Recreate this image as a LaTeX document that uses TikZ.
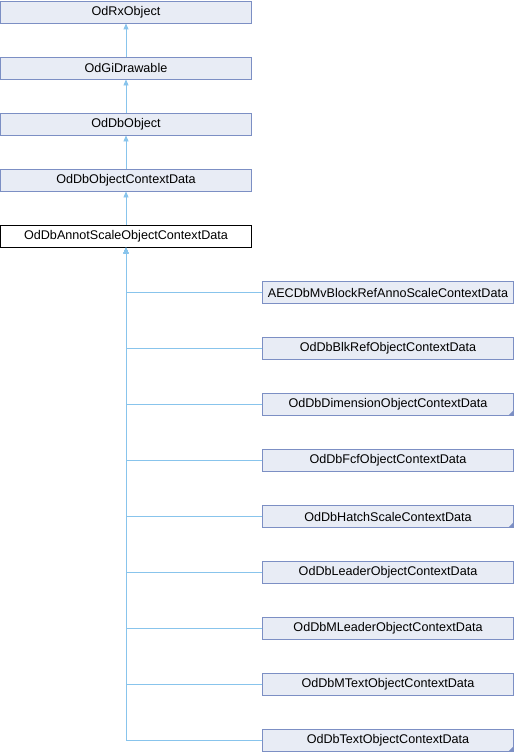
\documentclass[tikz,border=0pt]{standalone}
\usepackage{fontspec}
\setmainfont{Liberation Sans}
\usetikzlibrary{arrows.meta}

\definecolor{clsfill}{RGB}{232,236,245}
\definecolor{clsborder}{RGB}{124,143,196}
\definecolor{inhline}{RGB}{136,196,236}

\tikzset{
  cls/.style={draw=clsborder, fill=clsfill, line width=0.9pt, minimum width=251pt,
    minimum height=22pt, inner sep=0pt, font=\fontsize{12.6}{14}\selectfont},
  curcls/.style={cls, draw=black, fill=white},
  inh/.style={draw=inhline, line width=0.9pt, -{Triangle[length=6pt,width=5pt]}},
  more/.style={fill=clsborder}
}

\begin{document}
\begin{tikzpicture}[x=1pt, y=-1pt]
  \useasboundingbox (0,0) rectangle (514,752);
  % base classes
  \node[cls] (rxobj)   at (126,12)  {OdRxObject};
  \node[cls] (gidraw)  at (126,68)  {OdGiDrawable};
  \node[cls] (dbobj)   at (126,124) {OdDbObject};
  \node[cls] (ctxdata) at (126,180) {OdDbObjectContextData};
  \node[curcls] (annot) at (126,236) {OdDbAnnotScaleObjectContextData};
  \draw[inh] (gidraw) -- (rxobj);
  \draw[inh] (dbobj) -- (gidraw);
  \draw[inh] (ctxdata) -- (dbobj);
  \draw[inh] (annot) -- (ctxdata);
  % derived classes
  \foreach \name/\txt [count=\i from 0] in {
      aecmv/AECDbMvBlockRefAnnoScaleContextData,
      blkref/OdDbBlkRefObjectContextData,
      dimobj/OdDbDimensionObjectContextData,
      fcfobj/OdDbFcfObjectContextData,
      hatch/OdDbHatchScaleContextData,
      leader/OdDbLeaderObjectContextData,
      mleader/OdDbMLeaderObjectContextData,
      mtext/OdDbMTextObjectContextData,
      text/OdDbTextObjectContextData} {
    \node[cls] (\name) at (388,292.5+56*\i) {\txt};
    \draw[inh] (\name.west) -| (annot.south);
  }
  % classes with further children
  \foreach \name in {dimobj, hatch, text}
    \fill[more] ([xshift=-0.5pt,yshift=0.5pt]\name.south east) -- ++(-5,0) -- ++(5,-5) -- cycle;
\end{tikzpicture}
\end{document}
